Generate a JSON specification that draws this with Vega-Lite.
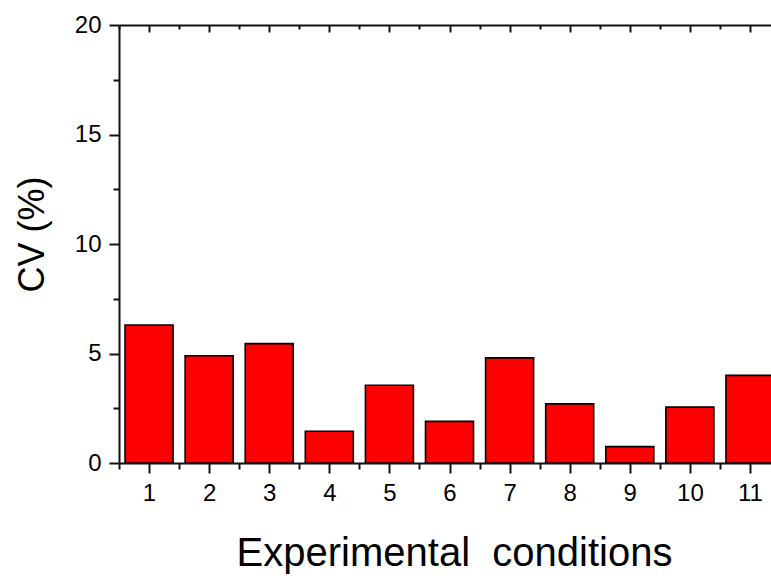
{
  "$schema": "https://vega.github.io/schema/vega-lite/v6.json",
  "autosize": {"type": "none"},
  "width": 652,
  "height": 438,
  "padding": {"left": 119, "top": 25, "right": 0, "bottom": 115},
  "background": "white",
  "config": {
    "view": {"stroke": null},
    "font": "Liberation Sans",
    "axis": {
      "domainColor": "#111",
      "domainWidth": 2,
      "tickColor": "#111",
      "tickWidth": 2,
      "labelFont": "Liberation Sans",
      "labelFontSize": 24,
      "labelColor": "#000",
      "labelFlush": false,
      "labelOverlap": false,
      "grid": false,
      "titleFont": "Liberation Sans",
      "titleFontWeight": "normal",
      "titleColor": "#000"
    }
  },
  "data": {
    "values": [
      {"condition": 1, "cv": 6.3},
      {"condition": 2, "cv": 4.9},
      {"condition": 3, "cv": 5.45},
      {"condition": 4, "cv": 1.45},
      {"condition": 5, "cv": 3.55},
      {"condition": 6, "cv": 1.9},
      {"condition": 7, "cv": 4.8},
      {"condition": 8, "cv": 2.7},
      {"condition": 9, "cv": 0.75},
      {"condition": 10, "cv": 2.55},
      {"condition": 11, "cv": 4.0}
    ]
  },
  "layer": [
    {
      "mark": {"type": "bar", "size": 48, "fill": "#ff0000", "stroke": "#000", "strokeWidth": 1.6, "clip": true},
      "encoding": {
        "x": {
          "field": "condition",
          "type": "quantitative",
          "scale": {"domain": [0.5, 11.35], "nice": false, "zero": false, "padding": 0},
          "axis": {
            "orient": "bottom",
            "values": [0.5, 1, 1.5, 2, 2.5, 3, 3.5, 4, 4.5, 5, 5.5, 6, 6.5, 7, 7.5, 8, 8.5, 9, 9.5, 10, 10.5, 11],
            "labelExpr": "datum.value % 1 === 0 ? '' + datum.value : ''",
            "tickSize": {"condition": {"test": "datum.value % 1 === 0", "value": 10}, "value": 6},
            "labelPadding": 8,
            "title": "Experimental\u00a0 conditions",
            "titleFontSize": 40,
            "titleX": 335,
            "titleY": 102,
            "titleAlign": "center",
            "titleBaseline": "alphabetic"
          }
        },
        "y": {
          "field": "cv",
          "type": "quantitative",
          "scale": {"domain": [0, 20], "nice": false, "padding": 0},
          "axis": {
            "orient": "left",
            "values": [0, 2.5, 5, 7.5, 10, 12.5, 15, 17.5, 20],
            "labelExpr": "datum.value % 5 === 0 ? datum.label : ''",
            "tickSize": {"condition": {"test": "datum.value % 5 === 0", "value": 10}, "value": 6},
            "labelPadding": 8,
            "title": "CV (%)",
            "titleFontSize": 36,
            "titleAngle": -90,
            "titleX": -76,
            "titleY": 209,
            "titleAlign": "center",
            "titleBaseline": "alphabetic"
          }
        }
      }
    },
    {
      "mark": {"type": "point", "opacity": 0},
      "encoding": {
        "x": {
          "field": "condition",
          "type": "quantitative",
          "axis": {
            "orient": "top",
            "values": [0.5, 1, 1.5, 2, 2.5, 3, 3.5, 4, 4.5, 5, 5.5, 6, 6.5, 7, 7.5, 8, 8.5, 9, 9.5, 10, 10.5, 11],
            "labels": false,
            "tickSize": {"condition": {"test": "datum.value % 1 === 0", "value": -7}, "value": -4},
            "title": null
          }
        }
      }
    }
  ],
  "resolve": {"axis": {"x": "independent"}}
}
